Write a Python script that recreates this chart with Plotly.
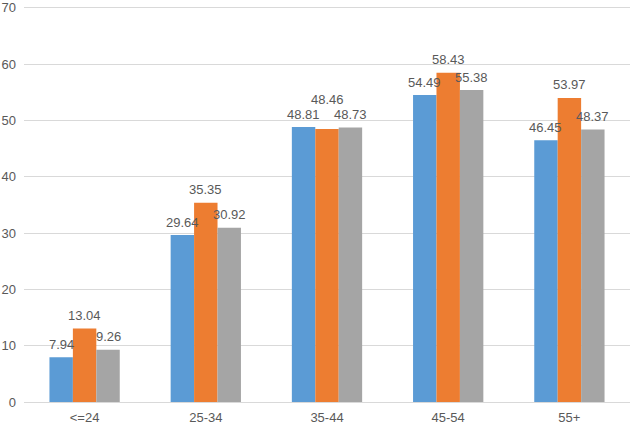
import plotly.graph_objects as go

categories = ["<=24", "25-34", "35-44", "45-54", "55+"]
series1 = [7.94, 29.64, 48.81, 54.49, 46.45]
series2 = [13.04, 35.35, 48.46, 58.43, 53.97]
series3 = [9.26, 30.92, 48.73, 55.38, 48.37]
colors = ["#5B9BD5", "#ED7D31", "#A5A5A5"]
y_ticks = [0, 10, 20, 30, 40, 50, 60, 70]

W, H = 630, 425
ML, MR, MT, MB = 24, 0, 4, 23
BARGAP = 0.42
all_series = [series1, series2, series3]

fig = go.Figure()
for vals, col in zip(all_series, colors):
    fig.add_trace(go.Bar(
        x=categories, y=vals, marker=dict(color=col, line=dict(width=0)),
        hoverinfo="skip",
    ))

# data labels above each bar (middle label of 35-44 lifted to avoid overlap)
plot_w = W - ML - MR
bar_px = plot_w / len(categories) * (1 - BARGAP) / len(all_series)
for si, vals in enumerate(all_series):
    for ci, v in enumerate(vals):
        lift = 17 if (si == 1 and ci == 2) else 0
        fig.add_annotation(
            x=categories[ci], y=v, text=f"{v:.2f}", showarrow=False,
            xshift=(si - 1) * bar_px, yshift=13 + lift,
            xanchor="center", yanchor="middle",
            font=dict(size=13, color="#595959"),
        )

fig.update_layout(
    width=W, height=H,
    margin=dict(l=ML, r=MR, t=MT, b=MB),
    barmode="group", bargap=BARGAP, bargroupgap=0,
    showlegend=False,
    plot_bgcolor="white", paper_bgcolor="white",
    font=dict(family="Liberation Sans, Arial, sans-serif", size=13, color="#595959"),
    xaxis=dict(showgrid=False, showline=False, ticks="", tickfont=dict(size=13, color="#595959"),
               ticklabelstandoff=6),
    yaxis=dict(range=[0, 70.3], tickvals=y_ticks, showgrid=True, gridcolor="#D9D9D9",
               gridwidth=1, zeroline=True, zerolinecolor="#D9D9D9", zerolinewidth=1,
               showline=False, ticks="", tickfont=dict(size=13, color="#595959"),
               ticklabelstandoff=7, ticklabeloverflow="allow"),
)
fig.write_html("out.html", config={"displayModeBar": False},
               post_script="document.body.style.margin='0';")
